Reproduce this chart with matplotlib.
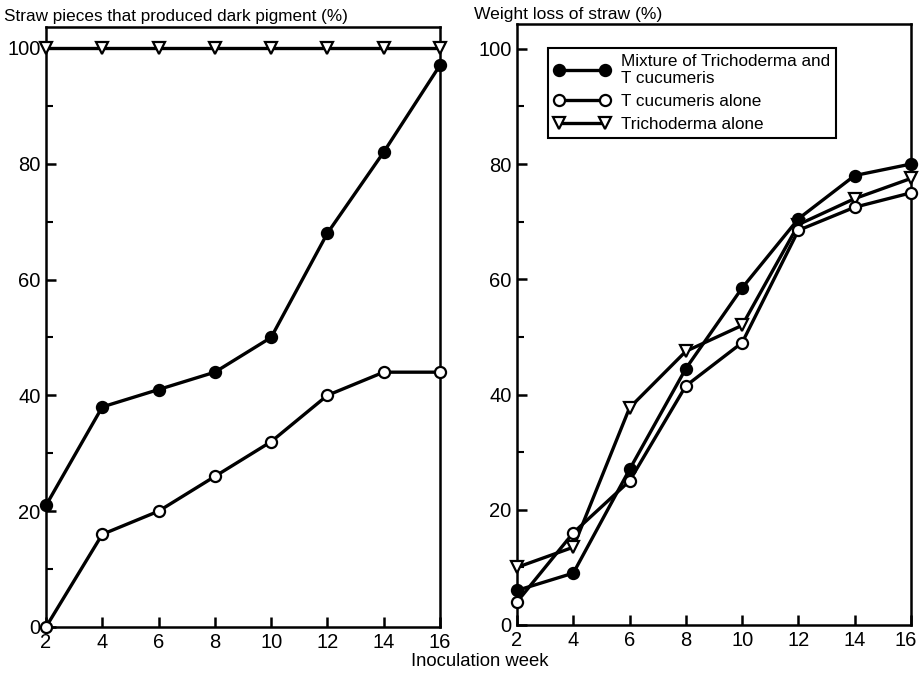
import matplotlib
matplotlib.use("Agg")
import matplotlib.pyplot as plt
from matplotlib.ticker import MultipleLocator
from matplotlib.transforms import ScaledTranslation

weeks = [2, 4, 6, 8, 10, 12, 14, 16]

# Left panel: straw pieces that produced dark pigment (%)
pig_mixture = [21, 38, 41, 44, 50, 68, 82, 97]
pig_tcuc = [0, 16, 20, 26, 32, 40, 44, 44]
pig_trich = [100, 100, 100, 100, 100, 100, 100, 100]

# Right panel: weight loss of straw (%)
wl_mixture = [6, 9, 27, 44.5, 58.5, 70.5, 78, 80]
wl_tcuc = [4, 16, 25, 41.5, 49, 68.5, 72.5, 75]
wl_trich = [10, 13.5, 37.7, 47.5, 52, 69.5, 74, 77.5]

labels = ["Mixture of Trichoderma and\nT cucumeris", "T cucumeris alone", "Trichoderma alone"]
left_title = "Straw pieces that produced dark pigment (%)"
right_title = "Weight loss of straw (%)"
xlabel = "Inoculation week"

plt.rcParams['font.family'] = ['Liberation Sans', 'DejaVu Sans']

fig = plt.figure(figsize=(9.2, 6.78), dpi=100)
axL = fig.add_axes([46/920, 1-627/678, (440-46)/920, 600/678])
axR = fig.add_axes([517/920, 1-625/678, (911-517)/920, 601/678])

lw = 2.4
ms = 8

def style(ax, ytop):
    ax.set_xlim(2, 16)
    ax.set_ylim(0, ytop)
    ax.set_xticks(weeks)
    ax.yaxis.set_major_locator(MultipleLocator(20))
    ax.yaxis.set_minor_locator(MultipleLocator(10))
    ax.tick_params(axis='both', which='major', direction='in', length=7, width=1.8,
                   labelsize=14.5, pad=4)
    ax.tick_params(axis='y', which='minor', direction='in', length=5, width=1.5)
    for s in ax.spines.values():
        s.set_linewidth(1.8)
        s.set_color('black')

def plot_series(ax, mix, tcuc, trich):
    h3, = ax.plot(weeks, trich, '-', color='black', lw=lw, marker='v', ms=ms+1,
                  mfc='white', mec='black', mew=1.6, clip_on=False, zorder=3)
    h1, = ax.plot(weeks, mix, '-', color='black', lw=lw, marker='o', ms=ms,
                  mfc='black', mec='black', mew=1.6, clip_on=False, zorder=4)
    h2, = ax.plot(weeks, tcuc, '-', color='black', lw=lw, marker='o', ms=ms,
                  mfc='white', mec='black', mew=1.6, clip_on=False, zorder=5)
    return h1, h2, h3

plot_series(axL, pig_mixture, pig_tcuc, pig_trich)
h1, h2, h3 = plot_series(axR, wl_mixture, wl_tcuc, wl_trich)
style(axL, 103.6)
style(axR, 104.3)

# keep the last right-hand tick label inside the figure
fig.canvas.draw()
last = axR.get_xticklabels()[-1]
last.set_transform(last.get_transform() + ScaledTranslation(-5/100, 0, fig.dpi_scale_trans))

leg = axR.legend([h1, h2, h3], labels, loc='upper left', bbox_to_anchor=(0.079, 0.96),
                 borderaxespad=0, numpoints=2, handlelength=3.3, fontsize=12.3,
                 frameon=True, fancybox=False, edgecolor='black', framealpha=1,
                 borderpad=0.35, labelspacing=0.45, handletextpad=0.6)
leg.get_frame().set_linewidth(1.5)

fig.text(4/920, 1-17/678, left_title, fontsize=12.3, ha='left', va='center')
fig.text(474/920, 1-14/678, right_title, fontsize=12.6, ha='left', va='center')
fig.text(480/920, 1-662/678, xlabel, fontsize=13.3, ha='center', va='center')

fig.savefig("out.png", dpi=100)
